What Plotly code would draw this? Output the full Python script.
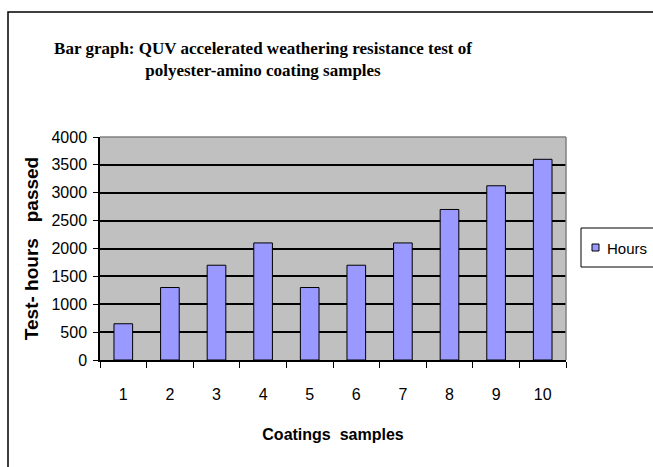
import plotly.graph_objects as go

samples = [1, 2, 3, 4, 5, 6, 7, 8, 9, 10]
hours = [650, 1300, 1700, 2100, 1300, 1700, 2100, 2700, 3125, 3600]
y_ticks = [0, 500, 1000, 1500, 2000, 2500, 3000, 3500, 4000]
series_name = "Hours"

SANS = "Liberation Sans, Arial"
SERIF = "Liberation Serif, Times New Roman, serif"
BAR_COLOR = "#9999FF"

W, H = 653, 467
L, R, T, B = 100, 87, 137, 107
pw, ph = W - L - R, H - T - B

def px(x):
    return (x - L) / pw

def py(y):
    return (H - B - y) / ph

fig = go.Figure()
fig.add_trace(go.Bar(
    x=samples, y=hours, name=series_name, width=0.4, showlegend=False,
    marker=dict(color=BAR_COLOR, line=dict(color="black", width=1)),
))

fig.update_layout(
    template="none",
    width=W, height=H,
    margin=dict(l=L, r=R, t=T, b=B, autoexpand=False),
    paper_bgcolor="white", plot_bgcolor="#C0C0C0",
    showlegend=False,
    title=dict(
        text="<b>Bar graph: QUV accelerated weathering resistance test of<br>polyester-amino coating samples</b>",
        x=263 / W, xanchor="center", xref="container",
        y=1 - 54 / H, yanchor="middle", yref="container",
        font=dict(family=SERIF, size=17, color="black"),
    ),
    xaxis=dict(
        automargin=False,
        range=[0.5, 10.5], tickmode="array", tickvals=samples,
        ticktext=[str(s) for s in samples],
        ticks="", showgrid=False, zeroline=False,
        showline=True, linecolor="black", linewidth=1.5,
        ticklabelstandoff=19,
        tickfont=dict(family=SANS, size=16, color="black"),
        minor=dict(tick0=0.5, dtick=1, ticks="outside", ticklen=6,
                   tickcolor="black", tickwidth=1, showgrid=False),
        title=dict(text="<b>Coatings  samples</b>", standoff=27,
                   font=dict(family=SANS, size=16, color="black")),
    ),
    yaxis=dict(
        automargin=False,
        range=[0, 4000], tickmode="array", tickvals=y_ticks,
        ticks="outside", ticklen=5, tickcolor="black", tickwidth=1,
        showgrid=True, gridcolor="black", gridwidth=1.5,
        zeroline=False, showline=True, linecolor="black", linewidth=1.5,
        ticklabelstandoff=3,
        tickfont=dict(family=SANS, size=16, color="black"),
        title=dict(text="<b>Test- hours&nbsp;&nbsp;&nbsp;passed</b>", standoff=8,
                   font=dict(family=SANS, size=19, color="black")),
    ),
    shapes=[
        dict(type="line", xref="paper", yref="paper", x0=0, x1=1, y0=1, y1=1,
             line=dict(color="#808080", width=1.5), layer="above"),
        dict(type="line", xref="paper", yref="paper", x0=1, x1=1, y0=0, y1=1,
             line=dict(color="#808080", width=1.5), layer="above"),
        # outer chart border
        dict(type="rect", xref="paper", yref="paper",
             x0=px(8), x1=px(665), y0=py(12), y1=py(480),
             line=dict(color="black", width=1.5), fillcolor="rgba(0,0,0,0)",
             layer="above"),
        # legend box
        dict(type="rect", xref="paper", yref="paper",
             x0=px(581), x1=px(670), y0=py(228), y1=py(267),
             line=dict(color="black", width=1), fillcolor="white",
             layer="above"),
        dict(type="rect", xref="paper", yref="paper",
             x0=px(592), x1=px(599), y0=py(244), y1=py(251),
             line=dict(color="black", width=1), fillcolor=BAR_COLOR,
             layer="above"),
    ],
    annotations=[
        dict(text=series_name, xref="paper", yref="paper",
             x=px(605), y=py(248), xanchor="left", yanchor="middle",
             showarrow=False, font=dict(family=SANS, size=15, color="black")),
    ],
)

fig.write_html("out.html", config={"displayModeBar": False},
               post_script="document.body.style.margin='0';")
